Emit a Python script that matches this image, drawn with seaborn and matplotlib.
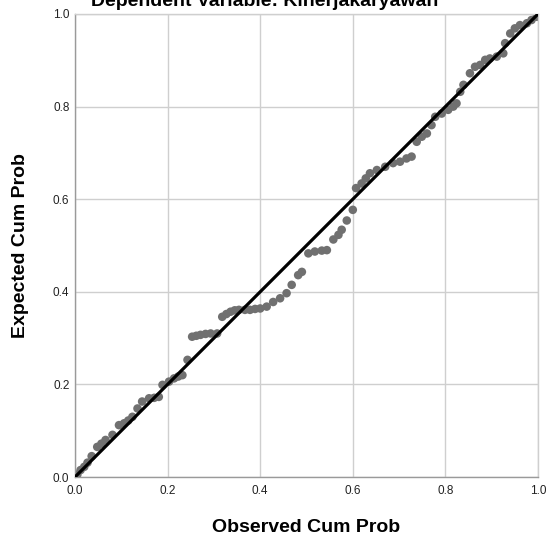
import matplotlib
matplotlib.use("Agg")
import matplotlib.pyplot as plt
import seaborn as sns
import pandas as pd

# Observed cumulative probability (x) and expected cumulative probability (y)
observed = [0.005, 0.012, 0.020, 0.027, 0.036, 0.048, 0.057, 0.066, 0.081, 0.095,
            0.106, 0.115, 0.124, 0.135, 0.145, 0.160, 0.171, 0.181, 0.189, 0.203,
            0.214, 0.223, 0.232, 0.243, 0.253, 0.262, 0.271, 0.282, 0.293, 0.307,
            0.318, 0.327, 0.336, 0.345, 0.354, 0.367, 0.378, 0.389, 0.400, 0.414,
            0.428, 0.443, 0.457, 0.468, 0.482, 0.490, 0.504, 0.518, 0.533, 0.544,
            0.558, 0.569, 0.576, 0.587, 0.600, 0.607, 0.619, 0.628, 0.637, 0.652,
            0.670, 0.687, 0.702, 0.716, 0.727, 0.738, 0.749, 0.760, 0.770, 0.778,
            0.792, 0.806, 0.817, 0.824, 0.832, 0.839, 0.853, 0.864, 0.875, 0.886,
            0.896, 0.911, 0.925, 0.929, 0.940, 0.950, 0.961, 0.976, 0.986, 0.997]
expected = [0.005, 0.015, 0.022, 0.031, 0.045, 0.065, 0.072, 0.080, 0.091, 0.112,
            0.116, 0.122, 0.130, 0.148, 0.163, 0.170, 0.171, 0.173, 0.199, 0.206,
            0.213, 0.217, 0.220, 0.253, 0.303, 0.305, 0.307, 0.309, 0.310, 0.310,
            0.346, 0.352, 0.357, 0.360, 0.361, 0.361, 0.361, 0.363, 0.364, 0.368,
            0.378, 0.386, 0.397, 0.415, 0.436, 0.443, 0.483, 0.487, 0.489, 0.490,
            0.513, 0.523, 0.534, 0.554, 0.577, 0.624, 0.634, 0.645, 0.656, 0.663,
            0.670, 0.678, 0.681, 0.688, 0.692, 0.724, 0.735, 0.742, 0.760, 0.778,
            0.785, 0.793, 0.800, 0.807, 0.832, 0.847, 0.872, 0.886, 0.890, 0.901,
            0.904, 0.908, 0.915, 0.937, 0.958, 0.969, 0.976, 0.980, 0.987, 0.994]
ref_x = [0.0, 1.0]
ref_y = [0.0, 1.0]
ticks = [0.0, 0.2, 0.4, 0.6, 0.8, 1.0]
tick_labels = ["0.0", "0.2", "0.4", "0.6", "0.8", "1.0"]

title = "Dependent Variable: Kinerjakaryawan"
xlabel = "Observed Cum Prob"
ylabel = "Expected Cum Prob"

sns.set_theme(style="whitegrid")
plt.rcParams["font.family"] = ["Liberation Sans", "DejaVu Sans"]

df = pd.DataFrame({"obs": observed, "exp": expected})
ref = pd.DataFrame({"x": ref_x, "y": ref_y})

fig = plt.figure(figsize=(5.49, 5.38), dpi=100)
ax = fig.add_axes([75 / 549, 1 - 477 / 538, 463 / 549, 463 / 538])

sns.scatterplot(data=df, x="obs", y="exp", ax=ax, color="#707070", s=38,
                edgecolor="none", linewidth=0, zorder=2)
sns.lineplot(data=ref, x="x", y="y", ax=ax, color="black", linewidth=2.3,
             zorder=3)

ax.set_xlim(0, 1)
ax.set_ylim(0, 1)
ax.set_xticks(ticks)
ax.set_yticks(ticks)
ax.set_xticklabels(tick_labels)
ax.set_yticklabels(tick_labels)
ax.tick_params(axis="x", labelsize=8.5, colors="#222222", pad=6, length=0)
ax.tick_params(axis="y", labelsize=8.5, colors="#222222", pad=4, length=0)
ax.grid(True, color="#cfcfcf", linewidth=1.0)
ax.set_facecolor("white")
for name, sp in ax.spines.items():
    sp.set_visible(True)
    sp.set_linewidth(1.0)
    sp.set_color("#cfcfcf" if name in ("top", "right") else "#9a9a9a")

ax.set_xlabel(xlabel, fontsize=14, fontweight="bold", color="black")
ax.set_ylabel(ylabel, fontsize=14, fontweight="bold", color="black")
ax.xaxis.set_label_coords(0.5, (477 - 528) / 463)
ax.yaxis.set_label_coords((21 - 75) / 463, 0.5)
ax.xaxis.label.set_va("center")
ax.yaxis.label.set_va("center")

fig.text(265 / 549, 1 - 6.3 / 538, title, ha="center", va="baseline",
         fontsize=14, fontweight="bold", color="black")

fig.savefig("out.png", dpi=100, facecolor="white")
